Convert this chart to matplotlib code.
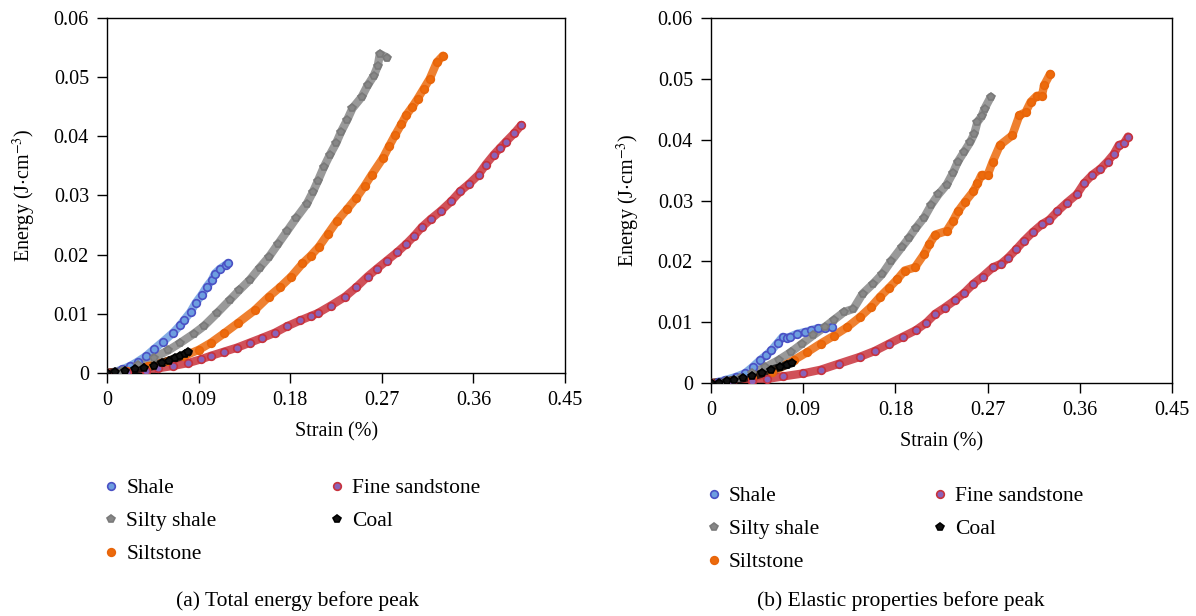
import numpy as np
import matplotlib
matplotlib.use("Agg")
import matplotlib.pyplot as plt

plt.rcParams['font.family'] = ['Liberation Serif', 'DejaVu Serif']
plt.rcParams['mathtext.fontset'] = 'stix'

# ---------------- data ----------------
names = ["Shale", "Silty shale", "Siltstone", "Fine sandstone", "Coal"]

# (a) total energy before peak
a_shale_x = [0, 0.008, 0.015, 0.023, 0.03, 0.038, 0.046, 0.055, 0.065, 0.072, 0.076, 0.082, 0.087, 0.093, 0.098, 0.103, 0.106, 0.111, 0.117, 0.119]
a_shale_y = [0, 0.0002, 0.0006, 0.0012, 0.0019, 0.0028, 0.004, 0.0053, 0.0068, 0.0081, 0.009, 0.0103, 0.0118, 0.0132, 0.0146, 0.0157, 0.0168, 0.0176, 0.0183, 0.0186]
a_silty_x = [0, 0.015, 0.03, 0.046, 0.06, 0.072, 0.085, 0.095, 0.108, 0.121, 0.13, 0.14, 0.15, 0.159, 0.168, 0.177, 0.186, 0.196, 0.202, 0.207, 0.213, 0.219, 0.225, 0.23, 0.236, 0.241, 0.25, 0.256, 0.262, 0.266, 0.268, 0.275]
a_silty_y = [0, 0.0004, 0.0013, 0.0026, 0.0038, 0.0051, 0.0066, 0.0079, 0.0101, 0.0124, 0.014, 0.0157, 0.0178, 0.0196, 0.0218, 0.024, 0.0262, 0.0285, 0.0305, 0.0324, 0.0348, 0.0369, 0.0388, 0.0408, 0.0428, 0.0447, 0.0466, 0.0486, 0.0502, 0.0519, 0.0539, 0.0533]
a_silt_x = [0, 0.02, 0.04, 0.06, 0.076, 0.09, 0.102, 0.115, 0.129, 0.145, 0.159, 0.17, 0.181, 0.192, 0.2, 0.208, 0.217, 0.226, 0.236, 0.245, 0.253, 0.26, 0.271, 0.277, 0.283, 0.289, 0.294, 0.3, 0.305, 0.311, 0.317, 0.324, 0.33]
a_silt_y = [0, 0.0003, 0.0011, 0.002, 0.0029, 0.0039, 0.0051, 0.0067, 0.0085, 0.0106, 0.0129, 0.0145, 0.0163, 0.0185, 0.0198, 0.0213, 0.0235, 0.0257, 0.0277, 0.0296, 0.0316, 0.0335, 0.0363, 0.0383, 0.0402, 0.042, 0.0436, 0.045, 0.0463, 0.048, 0.0497, 0.0525, 0.0536]
a_sand_x = [0, 0.02, 0.038, 0.05, 0.065, 0.08, 0.092, 0.102, 0.115, 0.128, 0.14, 0.152, 0.165, 0.177, 0.19, 0.2, 0.207, 0.22, 0.234, 0.245, 0.256, 0.265, 0.275, 0.285, 0.294, 0.302, 0.309, 0.318, 0.328, 0.338, 0.347, 0.356, 0.365, 0.372, 0.38, 0.386, 0.392, 0.4, 0.407]
a_sand_y = [0, 0.0001, 0.0004, 0.0008, 0.0012, 0.0017, 0.0023, 0.0029, 0.0036, 0.0043, 0.0051, 0.0059, 0.0068, 0.0079, 0.0089, 0.0096, 0.0101, 0.0114, 0.0129, 0.0145, 0.0163, 0.0176, 0.019, 0.0204, 0.0218, 0.0232, 0.0246, 0.026, 0.0274, 0.029, 0.0307, 0.032, 0.0335, 0.0352, 0.0369, 0.038, 0.0391, 0.0405, 0.0419]
a_coal_x = [0, 0.008, 0.018, 0.027, 0.036, 0.046, 0.054, 0.061, 0.067, 0.072, 0.077, 0.08]
a_coal_y = [0, 0.0001, 0.0003, 0.0006, 0.0009, 0.0012, 0.0017, 0.0021, 0.0025, 0.0028, 0.0032, 0.0035]

# (b) elastic energy before peak
b_shale_x = [0, 0.007, 0.014, 0.024, 0.033, 0.041, 0.048, 0.054, 0.059, 0.065, 0.07, 0.074, 0.077, 0.084, 0.092, 0.098, 0.104, 0.111, 0.118]
b_shale_y = [0, 0.0002, 0.0005, 0.001, 0.0016, 0.0027, 0.0038, 0.0046, 0.0054, 0.0066, 0.0076, 0.0074, 0.0076, 0.0081, 0.0084, 0.0087, 0.009, 0.0091, 0.0092]
b_silty_x = [0, 0.015, 0.028, 0.04, 0.053, 0.066, 0.078, 0.089, 0.1, 0.111, 0.12, 0.13, 0.139, 0.148, 0.158, 0.167, 0.176, 0.186, 0.193, 0.2, 0.208, 0.215, 0.222, 0.23, 0.236, 0.241, 0.247, 0.253, 0.257, 0.26, 0.264, 0.267, 0.273]
b_silty_y = [0, 0.0003, 0.0008, 0.0016, 0.0026, 0.0038, 0.0051, 0.0065, 0.0079, 0.0092, 0.0104, 0.0117, 0.0122, 0.0147, 0.0163, 0.0179, 0.0201, 0.0223, 0.0238, 0.0255, 0.0272, 0.0293, 0.031, 0.0326, 0.0345, 0.0364, 0.038, 0.0396, 0.041, 0.0429, 0.0438, 0.0451, 0.047]
b_silt_x = [0, 0.02, 0.04, 0.06, 0.081, 0.094, 0.107, 0.12, 0.133, 0.145, 0.156, 0.165, 0.174, 0.182, 0.189, 0.199, 0.208, 0.213, 0.219, 0.23, 0.236, 0.241, 0.248, 0.256, 0.26, 0.264, 0.27, 0.275, 0.282, 0.294, 0.301, 0.307, 0.312, 0.318, 0.323, 0.325, 0.331]
b_silt_y = [0, 0.0003, 0.0009, 0.0018, 0.0038, 0.0051, 0.0065, 0.0078, 0.0092, 0.0108, 0.0125, 0.0142, 0.0157, 0.0171, 0.0185, 0.019, 0.0212, 0.0228, 0.0244, 0.025, 0.0266, 0.0282, 0.0298, 0.0315, 0.0328, 0.0342, 0.0342, 0.0364, 0.0391, 0.0407, 0.044, 0.0445, 0.0462, 0.0472, 0.0472, 0.0489, 0.0508]
b_sand_x = [0, 0.02, 0.04, 0.055, 0.07, 0.09, 0.107, 0.125, 0.145, 0.16, 0.174, 0.187, 0.2, 0.21, 0.219, 0.228, 0.238, 0.247, 0.256, 0.265, 0.275, 0.283, 0.29, 0.298, 0.305, 0.314, 0.323, 0.33, 0.338, 0.347, 0.357, 0.364, 0.372, 0.38, 0.387, 0.393, 0.398, 0.403, 0.407]
b_sand_y = [0, 0.0001, 0.0003, 0.0007, 0.0011, 0.0016, 0.0022, 0.0032, 0.0043, 0.0053, 0.0065, 0.0076, 0.0087, 0.0099, 0.0114, 0.0124, 0.0136, 0.0148, 0.0163, 0.0175, 0.019, 0.0196, 0.0206, 0.022, 0.0233, 0.0248, 0.0261, 0.0268, 0.0282, 0.0296, 0.031, 0.0328, 0.0342, 0.0352, 0.0364, 0.0376, 0.0391, 0.0394, 0.0405]
b_coal_x = [0, 0.008, 0.016, 0.022, 0.031, 0.04, 0.05, 0.059, 0.067, 0.074, 0.079]
b_coal_y = [0, 0.0001, 0.0003, 0.0005, 0.0008, 0.0011, 0.0016, 0.0022, 0.0026, 0.003, 0.0033]

x_ticks = [0, 0.09, 0.18, 0.27, 0.36, 0.45]
x_labels = ["0", "0.09", "0.18", "0.27", "0.36", "0.45"]
y_ticks = [0, 0.01, 0.02, 0.03, 0.04, 0.05, 0.06]
y_labels = ["0", "0.01", "0.02", "0.03", "0.04", "0.05", "0.06"]

# marker styles: (face, edge, marker)
styles = [
    ("#6d9ee0", "#4a50c4", "o"),
    ("#878787", "#7a7a7a", "p"),
    ("#ec6a0c", "#e8650a", "o"),
    ("#8a62b8", "#c8323c", "o"),
    ("#111111", "#000000", "p"),
]

panel_a = [(a_shale_x, a_shale_y), (a_silty_x, a_silty_y), (a_silt_x, a_silt_y),
           (a_sand_x, a_sand_y), (a_coal_x, a_coal_y)]
panel_b = [(b_shale_x, b_shale_y), (b_silty_x, b_silty_y), (b_silt_x, b_silt_y),
           (b_sand_x, b_sand_y), (b_coal_x, b_coal_y)]

fig = plt.figure(figsize=(11.96, 6.16), dpi=100)
ax_a = fig.add_axes([0.0895, 0.3945, 0.383, 0.5765])
ax_b = fig.add_axes([0.5945, 0.378, 0.3855, 0.593])

# draw order: sandstone, siltstone, silty shale, shale, coal on top
order = [3, 2, 1, 0, 4]

for ax, panel in [(ax_a, panel_a), (ax_b, panel_b)]:
    for i in order:
        xs, ys = panel[i]
        fc, ec, mk = styles[i]
        ax.plot(xs, ys, color=ec if i == 3 else fc, lw=6, alpha=0.85,
                solid_capstyle='round', zorder=2 + i * 0.1)
        ax.plot(xs, ys, ls='none', marker=mk, ms=5.5, mfc=fc, mec=ec, mew=1.2,
                zorder=3 + i * 0.1, label=names[i])
    ax.set_xlim(0, 0.45)
    ax.set_ylim(0, 0.06)
    ax.set_xticks(x_ticks)
    ax.set_xticklabels(x_labels)
    ax.set_yticks(y_ticks)
    ax.set_yticklabels(y_labels)
    ax.tick_params(direction='out', length=7, width=1, labelsize=14.5, pad=6)
    for s in ax.spines.values():
        s.set_linewidth(1)
    ax.set_xlabel("Strain (%)", fontsize=14.5, labelpad=9)
    ax.set_ylabel("Energy (J$\\cdot$cm$^{-3}$)", fontsize=14.5, labelpad=11)

# legends, reordered to the picture's column layout
for ax, anchor in [(ax_a, (0.0695, 0.255)), (ax_b, (0.5735, 0.242))]:
    h, l = ax.get_legend_handles_labels()
    lookup = dict(zip(l, h))
    fig.legend([lookup[n] for n in names], names, loc='upper left', bbox_to_anchor=anchor,
               ncol=2, frameon=False, fontsize=15.5, markerscale=1.0, handlelength=0.8,
               handletextpad=0.3, columnspacing=5.2, labelspacing=0.6)

fig.text(0.249, 0.016, "(a) Total energy before peak", ha='center', fontsize=15.5)
fig.text(0.753, 0.016, "(b) Elastic properties before peak", ha='center', fontsize=15.5)

fig.savefig("out.png", dpi=100)
